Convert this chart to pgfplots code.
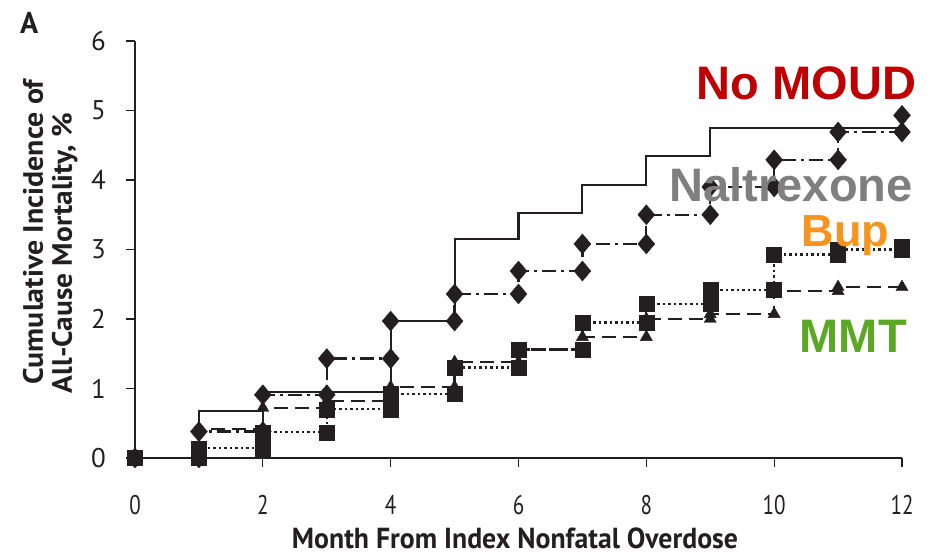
\documentclass[border=0pt]{standalone}
\usepackage{pgfplots}
\pgfplotsset{compat=1.18}
\usepackage{graphicx}
\usepackage{fontspec}
\setmainfont{PT Sans}
\newfontfamily\labfont{Liberation Sans}
\definecolor{ink}{HTML}{231F20}
\definecolor{cred}{HTML}{C00000}
\definecolor{cgray}{HTML}{7F7F7F}
\definecolor{corange}{HTML}{F7941D}
\definecolor{cgreen}{HTML}{5AA823}
\newcommand\sx[1]{\scalebox{0.78}[1]{#1}}
\begin{document}
\begin{tikzpicture}[x=1pt,y=1pt]
\path[use as bounding box] (-135,-98) rectangle (803,458);
\begin{axis}[
  at={(0,0)}, anchor=south west, scale only axis,
  width=767pt, height=417pt,
  xmin=0, xmax=12, ymin=0, ymax=6, clip=false,
  axis x line=bottom, axis y line=left,
  axis line style={ink, line width=1.3pt, -},
  xtick={0,2,4,6,8,10,12},
  xticklabels={\sx{0},\sx{2},\sx{4},\sx{6},\sx{8},\sx{10},\sx{12}},
  ytick={0,1,2,3,4,5,6},
  yticklabels={0,1,2,3,4,5,6},
  tick align=outside, major tick length=9pt,
  tick style={ink, line width=1.3pt},
  xticklabel style={font=\fontsize{27}{27}\selectfont, text=ink, anchor=north, inner sep=0pt, yshift=-28pt},
  yticklabel style={font=\fontsize{27}{27}\selectfont, text=ink, anchor=east, inner sep=0pt, xshift=-20pt},
]
% No MOUD
\addplot[const plot, color=ink, line width=2.1pt] coordinates {
(0,0) (1,0.68) (2,0.95) (4,1.97) (5,3.15) (6,3.53) (7,3.93) (8,4.35) (9,4.75) (12,4.75)};
% MMT
\addplot[color=ink, line width=2.3pt, dash pattern=on 14pt off 7pt,
  mark=triangle*, mark size=7pt, mark options={solid, fill=ink, draw=ink, line width=0.4pt}] coordinates {
(0,0) (1,0) (1,0.42) (2,0.42) (2,0.72) (3,0.72) (3,0.82) (4,0.82) (4,1.02) (5,1.02)
(5,1.38) (6,1.38) (6,1.56) (7,1.56) (7,1.74) (8,1.74) (8,2.00) (9,2.00) (9,2.07) (10,2.07)
(10,2.40) (11,2.40) (11,2.46) (12,2.46)};
% Bup
\addplot[color=ink, line width=2.3pt, dash pattern=on 2.5pt off 3pt,
  mark=square*, mark size=7.5pt, mark options={solid, fill=ink, draw=ink, line width=0.4pt}] coordinates {
(0,0) (1,0) (1,0.14) (2,0.14) (2,0.37) (3,0.37) (3,0.70) (4,0.70) (4,0.92) (5,0.92)
(5,1.30) (6,1.30) (6,1.56) (7,1.56) (7,1.95) (8,1.95) (8,2.22) (9,2.22) (9,2.42) (10,2.42)
(10,2.93) (11,2.93) (11,3.00) (12,3.00) (12,3.04)};
% Naltrexone
\addplot[color=ink, line width=2.3pt, dash pattern=on 14pt off 5pt on 3pt off 5pt,
  mark=diamond*, mark size=10pt, mark options={solid, fill=ink, draw=ink, line width=0.4pt, xscale=1.13}] coordinates {
(0,0) (1,0) (1,0.38) (2,0.38) (2,0.91) (3,0.91) (3,1.43) (4,1.43) (4,1.97) (5,1.97)
(5,2.36) (6,2.36) (6,2.69) (7,2.69) (7,3.08) (8,3.08) (8,3.50) (9,3.50) (9,3.90) (10,3.90)
(10,4.29) (11,4.29) (11,4.69) (12,4.69) (12,4.93)};
\end{axis}
% axis titles
\node[anchor=base, inner sep=0pt, text=ink, font=\fontsize{29}{29}\selectfont\bfseries] at (380,-91)
  {\resizebox{446pt}{\height}{Month From Index Nonfatal Overdose}};
\node[anchor=base, inner sep=0pt, rotate=90, text=ink, font=\fontsize{28}{28}\selectfont\bfseries] at (-92,226)
  {\resizebox{305pt}{\height}{Cumulative Incidence of}};
\node[anchor=base, inner sep=0pt, rotate=90, text=ink, font=\fontsize{28}{28}\selectfont\bfseries] at (-63,205)
  {\resizebox{280pt}{\height}{All-Cause Mortality, \%}};
\node[anchor=base west, inner sep=0pt, text=ink, font=\fontsize{30}{30}\selectfont\bfseries] at (-115,424) {A};
% group labels
\node[anchor=base west, inner sep=0pt, text=cred, font=\fontsize{47}{47}\selectfont\labfont\bfseries] at (561.5,358) {No MOUD};
\node[anchor=base west, inner sep=0pt, text=cgray, font=\fontsize{47}{47}\selectfont\labfont\bfseries] at (534.5,256) {Naltrexone};
\node[anchor=base west, inner sep=0pt, text=corange, font=\fontsize{45}{45}\selectfont\labfont\bfseries] at (666.5,211) {Bup};
\node[anchor=base west, inner sep=0pt, text=cgreen, font=\fontsize{47}{47}\selectfont\labfont\bfseries] at (664.5,105) {MMT};
\end{tikzpicture}
\end{document}
